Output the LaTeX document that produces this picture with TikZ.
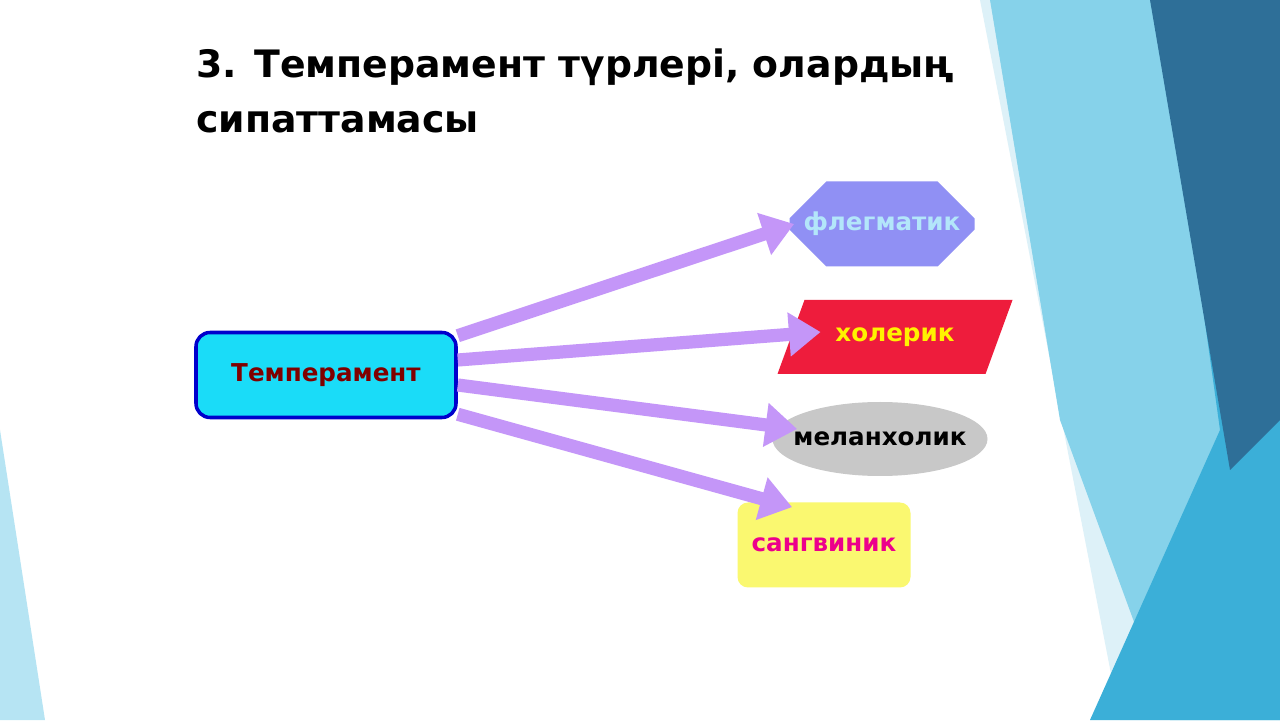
\documentclass[tikz,border=0pt]{standalone}
\usepackage{fontspec}
\setmainfont{DejaVu Sans}
\usetikzlibrary{shapes.geometric,shapes.misc,arrows.meta}
\definecolor{arrowviolet}{HTML}{C496F8}
\definecolor{boxcyan}{HTML}{1ADCF8}
\definecolor{octviolet}{HTML}{9090F4}
\definecolor{redfill}{HTML}{EE1C3C}
\definecolor{grayfill}{HTML}{C8C8C8}
\definecolor{yellowfill}{HTML}{FAF870}
\definecolor{bgpale}{HTML}{DDF1F8}
\definecolor{bgmid}{HTML}{86D2EA}
\definecolor{bgblue}{HTML}{3BAFD8}
\definecolor{bgdark}{HTML}{2E6F98}
\tikzset{
  typebox/.style={font=\bfseries\fontsize{14}{17}\selectfont, minimum height=1.7cm, inner sep=0pt},
  arr/.style={arrowviolet, line width=7.5pt, -{Triangle[length=18pt,width=24pt]}}
}
\begin{document}
\begin{tikzpicture}
            \useasboundingbox (0,0) rectangle (25.6,14.4);
            \fill[white] (0,0) rectangle (25.6,14.4);
            % background shapes
            \fill[bgpale] (19.6,14.4)--(25.6,14.4)--(25.6,0)--(22.4,0)--cycle;
            \fill[bgmid] (19.8,14.4)--(23.2,14.4)--(25.6,7.0)--(25.6,0)--(23.4,0)--(21.2,6.0)--cycle;
            \fill[bgblue] (23.2,14.4)--(25.6,14.4)--(25.6,0)--(21.8,0)--(24.4,5.8)--cycle;
            \fill[bgdark] (23.0,14.4)--(25.6,14.4)--(25.6,6.0)--(24.6,5.0)--cycle;
            \fill[bgmid!60] (0,5.8)--(0.9,0)--(0,0)--cycle;
            % title
            \node[anchor=west, font=\bfseries\fontsize{21.5}{25}\selectfont] (t1) at (3.8,13.05) {3. Темперамент түрлері, олардың};
            \node[anchor=west, font=\bfseries\fontsize{21.5}{25}\selectfont] (t2) at (3.8,11.95) {сипаттамасы};
            % nodes
            \node[typebox, draw=blue!80!black, line width=2pt, fill=boxcyan, rounded corners=8pt,
                  minimum width=5.2cm, text=red!50!black] (temp) at (6.52,6.9) {Темперамент};
            \node[typebox, chamfered rectangle, chamfered rectangle xsep=0.5cm, chamfered rectangle ysep=0.5cm,
                  fill=octviolet, minimum width=3.7cm, text=cyan!30] (fleg) at (17.64,9.92) {флегматик};
            \node[typebox, trapezium, trapezium left angle=35, trapezium right angle=145, fill=redfill,
                  minimum height=1.48cm, minimum width=4.7cm, trapezium stretches body, text=yellow] (hol) at (17.9,7.66) {холерик};
            \node[typebox, ellipse, fill=grayfill, inner sep=-6pt, minimum width=4.2cm, minimum height=1.48cm, text=black] (mel) at (17.6,5.62) {меланхолик};
            \node[typebox, fill=yellowfill, rounded corners=6pt, minimum width=3.46cm, text=magenta] (san) at (16.48,3.5) {сангвиник};
            % arrows
            \draw[arr] (temp.north east)++(0,-0.1) -- ([xshift=0.1cm]fleg.west);
            \draw[arr] ([yshift=0.3cm]temp.east) -- ([xshift=0.6cm,yshift=0.1cm]hol.west);
            \draw[arr] ([yshift=-0.2cm]temp.east) -- ([xshift=0.5cm,yshift=0.2cm]mel.west);
            \draw[arr] ([yshift=0.1cm]temp.south east) -- ([xshift=1.1cm,yshift=-0.1cm]san.north west);
\end{tikzpicture}
\end{document}
